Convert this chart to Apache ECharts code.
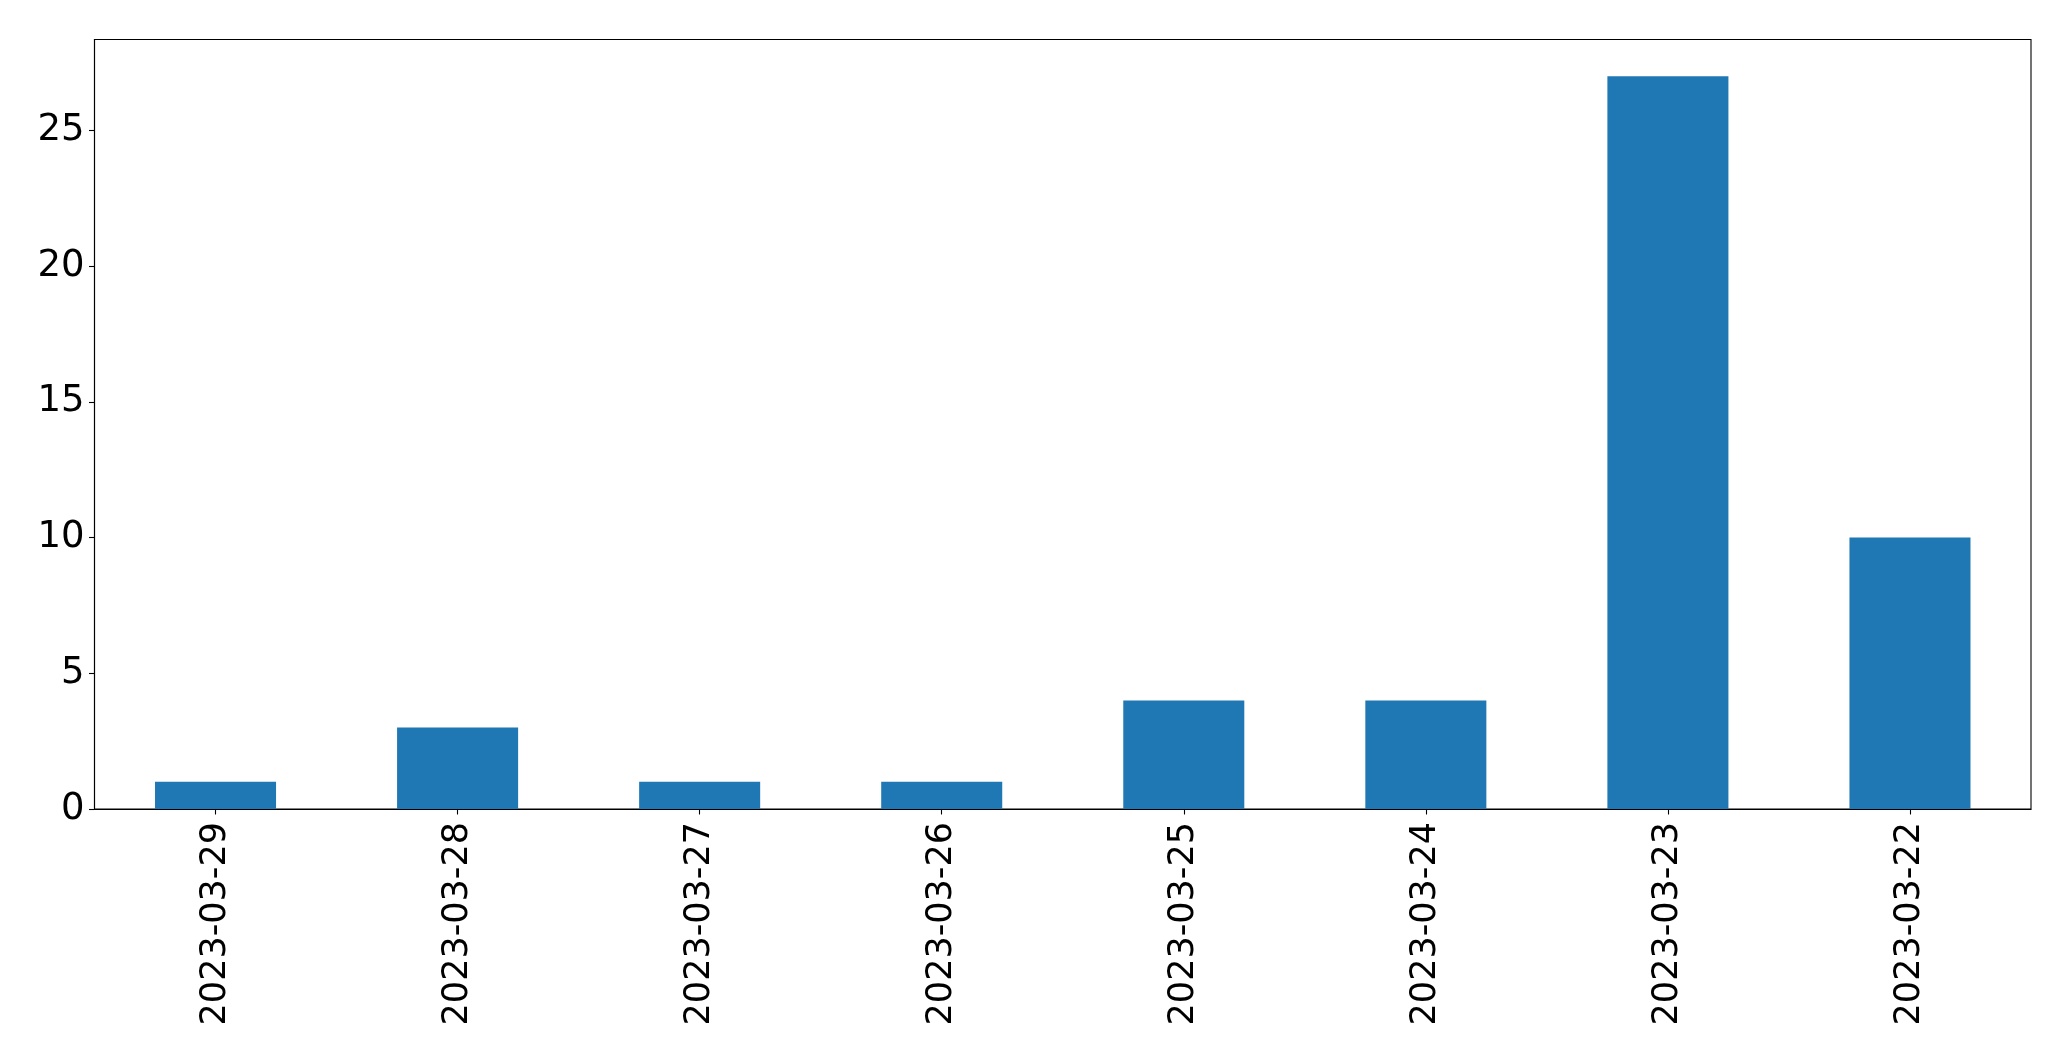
<!DOCTYPE html>
<html>
<head>
<meta charset="utf-8">
<script src="https://cdn.jsdelivr.net/npm/echarts@6/dist/echarts.min.js"></script>
<style>
html,body{margin:0;padding:0;background:#fff;}
#chart{width:2071px;height:1061px;}
</style>
</head>
<body>
<div id="chart"></div>
<script>
const categories = ['2023-03-29','2023-03-28','2023-03-27','2023-03-26','2023-03-25','2023-03-24','2023-03-23','2023-03-22'];
const values = [1, 3, 1, 1, 4, 4, 27, 10];
const yTicks = [0, 5, 10, 15, 20, 25];

const chart = echarts.init(document.getElementById('chart'), null, {renderer: 'canvas'});
const font = 'DejaVu Sans';
chart.setOption({
  animation: false,
  backgroundColor: '#ffffff',
  grid: {
    left: 94.5, top: 39.5, right: 40, bottom: 252,
    show: true, borderColor: '#000', borderWidth: 1.1, backgroundColor: 'transparent'
  },
  xAxis: {
    type: 'category',
    data: categories,
    boundaryGap: true,
    axisLine: {show: true, lineStyle: {color: '#000', width: 1.1}},
    axisTick: {show: true, alignWithLabel: true, length: 5.5, lineStyle: {color: '#000', width: 1.1}},
    axisLabel: {rotate: 90, margin: 13, fontFamily: font, fontSize: 35, color: '#000'},
    splitLine: {show: false}
  },
  yAxis: {
    type: 'value',
    min: 0,
    max: 28.35,
    interval: 5,
    axisLine: {show: true, lineStyle: {color: '#000', width: 1.1}},
    axisTick: {show: true, length: 5.5, lineStyle: {color: '#000', width: 1.1}},
    axisLabel: {
      margin: 10, fontFamily: font, fontSize: 37, color: '#000',
      padding: [5, 0, 0, 0],
      showMaxLabel: false,
      formatter: v => (yTicks.indexOf(v) >= 0 ? String(v) : '')
    },
    splitLine: {show: false}
  },
  series: [{
    type: 'bar',
    data: values,
    barWidth: '50%',
    itemStyle: {color: '#1f77b4'}
  }]
});
</script>
</body>
</html>
